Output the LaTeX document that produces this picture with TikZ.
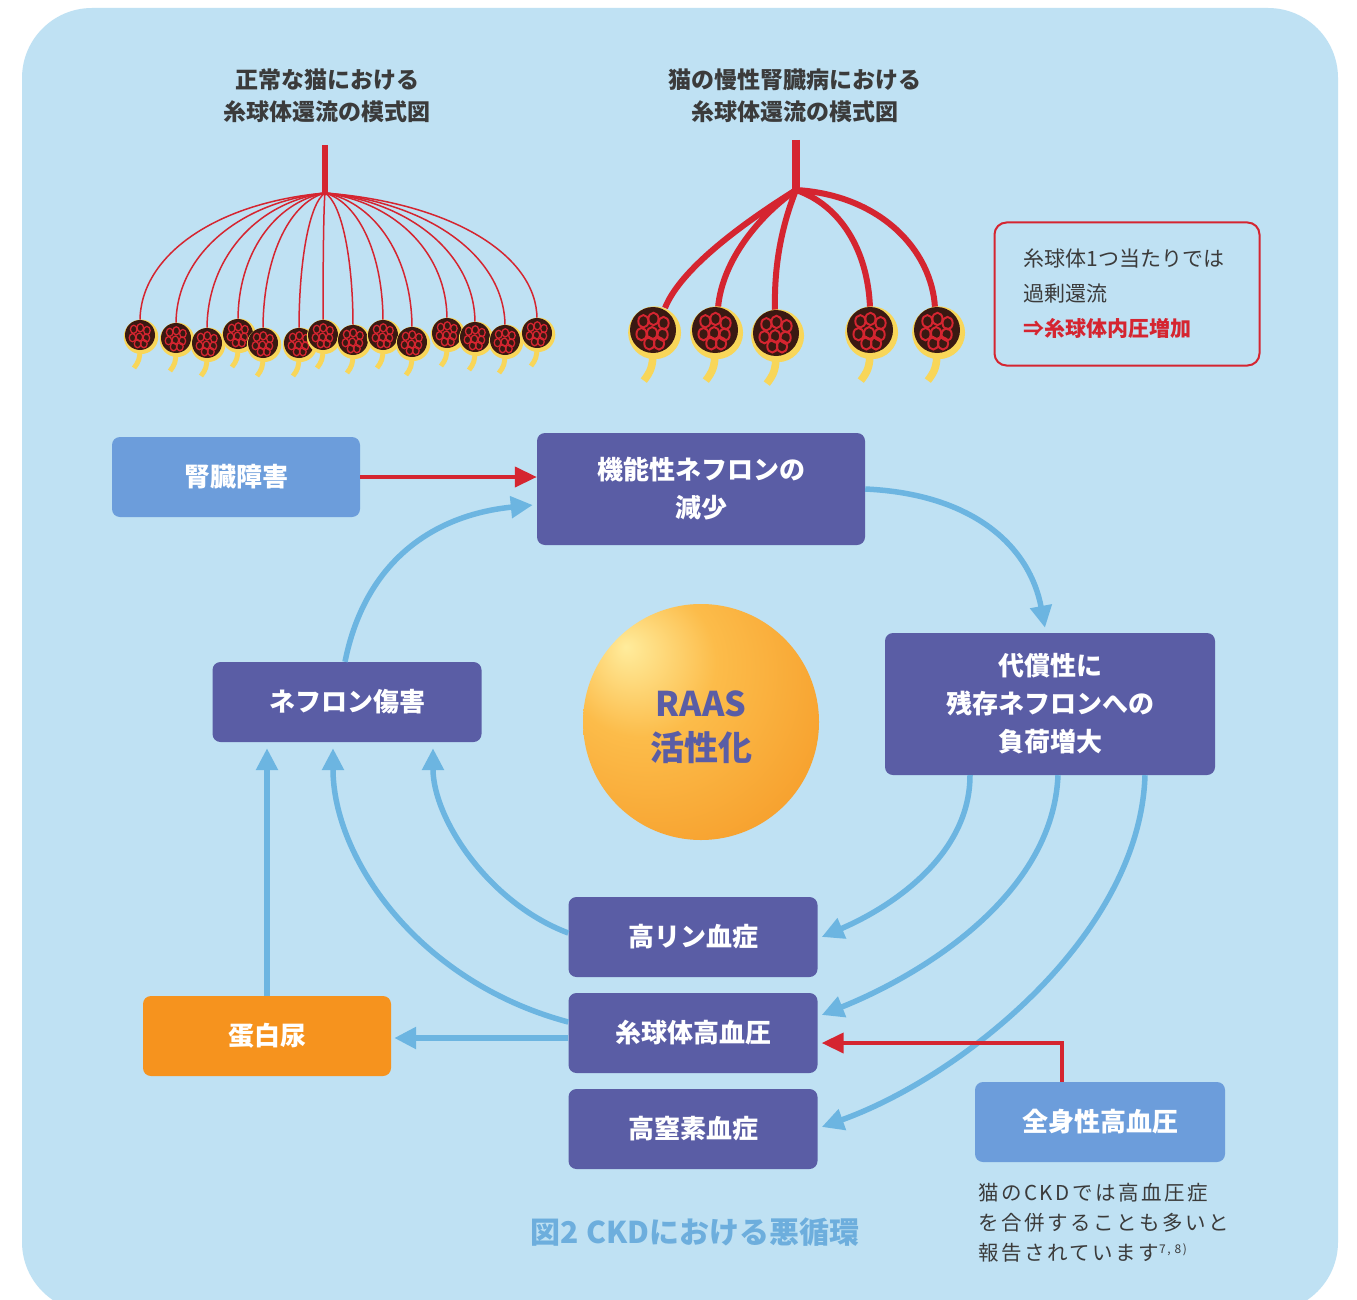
\documentclass[tikz,border=0pt]{standalone}
\usepackage{fontspec}
\setmainfont{Noto Sans CJK JP}
\newfontfamily\spacedfont{Noto Sans CJK JP}[LetterSpace=12]
\usetikzlibrary{shapes,arrows,arrows.meta}

\definecolor{bgblue}{HTML}{BFE1F3}
\definecolor{slate}{HTML}{5A5DA5}
\definecolor{skybox}{HTML}{6C9DDB}
\definecolor{orng}{HTML}{F6931E}
\definecolor{flow}{HTML}{6CB5E1}
\definecolor{vessel}{HTML}{D52530}
\definecolor{glomdark}{HTML}{3A1912}
\definecolor{tubule}{HTML}{F8D659}
\definecolor{inktext}{HTML}{3B3B3B}
\definecolor{captext}{HTML}{6DAEDD}
\definecolor{ballhi}{HTML}{FFEC9C}
\definecolor{ballmid}{HTML}{FCBC4A}
\definecolor{ballout}{HTML}{F4921F}

\pgfdeclareradialshading{raasball}{\pgfpoint{-16bp}{16bp}}{color(0bp)=(ballhi); color(16bp)=(ballmid); color(50bp)=(ballout); color(80bp)=(ballout)}

\tikzstyle{block} = [rectangle, fill=slate, text=white, rounded corners=8pt,
    minimum height=80pt, align=center, font=\fontsize{26}{38}\selectfont\bfseries]
\tikzstyle{entry} = [fill=skybox]
\tikzstyle{result} = [fill=orng]
\tikzstyle{heading} = [align=center, text=inktext, font=\fontsize{23}{32}\selectfont\bfseries]
\tikzstyle{line} = [draw=flow, line width=5.5pt, -{Triangle[length=22pt,width=21pt]}]
\tikzstyle{redline} = [draw=vessel, line width=4pt, -{Triangle[length=22pt,width=20pt]}]

% one glomerulus: x, y, radius
\newcommand{\glom}[3]{%
  \begin{scope}[shift={(#1,#2)}, scale=#3]
    \draw[tubule, line width=0.33*#3pt] (0,0.9) .. controls (0,1.6) and (-0.1,1.8) .. (-0.4,2.2);
    \fill[tubule] (0.07,0.12) circle (1.15);
    \fill[glomdark] (0,0) circle (1);
    \foreach \lx/\ly in {-0.42/-0.38, 0.02/-0.48, 0.46/-0.3, -0.5/0.18, -0.04/0.14, 0.42/0.2, -0.16/0.58, 0.26/0.58}
      \draw[vessel, line width=0.085*#3pt] (\lx,\ly) ellipse (0.22 and 0.27);
  \end{scope}}

\begin{document}
\begin{tikzpicture}[x=1pt, y=-1pt, node distance=96pt]
    \useasboundingbox (0,0) rectangle (1357,1300);
    \fill[white] (0,0) rectangle (1357,1300);
    \fill[bgblue, rounded corners=70pt] (22,8) rectangle (1338,1312);

    % Normal glomerular perfusion
    \node[heading] (normtitle) at (327,96) {正常な猫における\\糸球体還流の模式図};
    \draw[vessel, line width=6pt] (325,145) -- (325,195);
    \foreach \gx/\gy in {140/335, 176/338, 207/343, 238/334, 263/343, 299/343, 323/335,
                         353/340, 383/335, 412/342, 447/333, 475/337, 505/340, 537/333} {
      \pgfmathsetmacro\ax{325+0.6*(\gx-325)}
      \pgfmathsetmacro\by{\gy-15-0.5*(\gy-208)}
      \draw[vessel, line width=1.5pt] (325,193) .. controls (\ax,203) and (\gx,\by) .. (\gx,\gy-14);
    }
    \foreach \gx/\gy in {140/335, 176/338, 207/343, 238/334, 263/343, 299/343, 323/335,
                         353/340, 383/335, 412/342, 447/333, 475/337, 505/340, 537/333}
      \glom{\gx}{\gy}{15};

    % CKD glomerular perfusion
    \node[heading] (ckdtitle) at (795,96) {猫の慢性腎臓病における\\糸球体還流の模式図};
    \draw[vessel, line width=8pt] (796,140) -- (796,194);
    \begin{scope}[vessel, line width=6pt]
      \draw (796,190) .. controls (740,225) and (680,270) .. (665,308);
      \draw (796,190) .. controls (760,215) and (722,260) .. (718,308);
      \draw (796,190) .. controls (780,230) and (774,270) .. (775,310);
      \draw (796,190) .. controls (840,205) and (868,250) .. (870,308);
      \draw (796,190) .. controls (880,195) and (932,250) .. (935,308);
    \end{scope}
    \foreach \gx/\gy in {653/330, 715/330, 776/333, 870/330, 937/330}
      \glom{\gx}{\gy}{23};

    % note on overperfusion
    \node[draw=vessel, line width=2pt, rounded corners=12pt, minimum width=265pt, minimum height=143pt,
          text width=207pt, align=left, text=inktext, font=\fontsize{21}{35}\selectfont] (overload) at (1127,294)
          {糸球体1つ当たりでは\\過剰還流\\{\color{vessel}\bfseries ⇒糸球体内圧増加}};

    % RAAS
    \shade[shading=raasball] (701,722) circle (118);
    \node[align=center, text=slate, font=\fontsize{34}{44}\selectfont\bfseries] (raas) at (701,727) {RAAS\\活性化};

    % Place nodes
    \node[block, entry, minimum width=248pt] (damage) at (236,477) {腎臓障害};
    \node[block, minimum width=328pt, minimum height=112pt] (loss) at (701,489) {機能性ネフロンの\\減少};
    \node[block, minimum width=330pt, minimum height=142pt] (load) at (1050,704) {代償性に\\残存ネフロンへの\\負荷増大};
    \node[block, minimum width=269pt] (injury) at (347,702) {ネフロン傷害};
    \node[block, minimum width=249pt] (phos) at (693,937) {高リン血症};
    \node[block, minimum width=249pt, below of=phos] (ghyp) {糸球体高血圧};
    \node[block, minimum width=249pt, below of=ghyp] (azot) {高窒素血症};
    \node[block, result, minimum width=248pt] (prot) at (267,1036) {蛋白尿};
    \node[block, entry, minimum width=250pt] (syshyp) at (1100,1122) {全身性高血圧};

    % Draw edges
    \path[redline] (damage.east) -- (damage.east -| loss.west);
    \path[line] (loss.east) .. controls +(110,5) and +(-15,-80) .. ([xshift=-5pt,yshift=5pt]load.north);
    \path[line] ([xshift=-80pt]load.south) .. controls +(0,80) and +(70,-30) .. ([xshift=4pt]phos.east);
    \path[line] ([xshift=8pt]load.south) .. controls +(-5,120) and +(100,-40) .. ([xshift=4pt,yshift=18pt]ghyp.east);
    \path[line] ([xshift=95pt]load.south) .. controls +(-5,160) and +(140,-50) .. ([xshift=4pt,yshift=2pt]azot.east);
    \path[line] ([yshift=4pt]phos.west) .. controls +(-80,-30) and +(0,70) .. ([xshift=86pt,yshift=-6pt]injury.south);
    \path[line] ([yshift=11pt]ghyp.west) .. controls +(-150,-40) and +(0,110) .. ([xshift=-14pt,yshift=-6pt]injury.south);
    \path[line, shorten >=6pt] (prot.north) -- (prot.north |- injury.south);
    \path[line] ([yshift=-5pt]ghyp.west) -- ([xshift=3pt,yshift=-2pt]prot.east);
    \path[line] ([xshift=-2pt]injury.north) .. controls +(20,-100) and +(-100,10) .. ([xshift=-4pt,yshift=-16pt]loss.west);
    \path[redline] ([xshift=-38pt]syshyp.north) |- ([xshift=4pt,yshift=-10pt]ghyp.east);

    % caption and footnote
    \node[text=captext, font=\fontsize{30}{36}\selectfont\bfseries] (caption) at (695,1232) {図2 CKDにおける悪循環};
    \node[anchor=north west, align=left, text=inktext, font=\spacedfont\fontsize{20.5}{30}\selectfont] (remark) at (975,1180)
        {猫のCKDでは高血圧症\\を合併することも多いと\\報告されています\textsuperscript{\fontsize{12}{12}\selectfont 7, 8)}};
\end{tikzpicture}
\end{document}
